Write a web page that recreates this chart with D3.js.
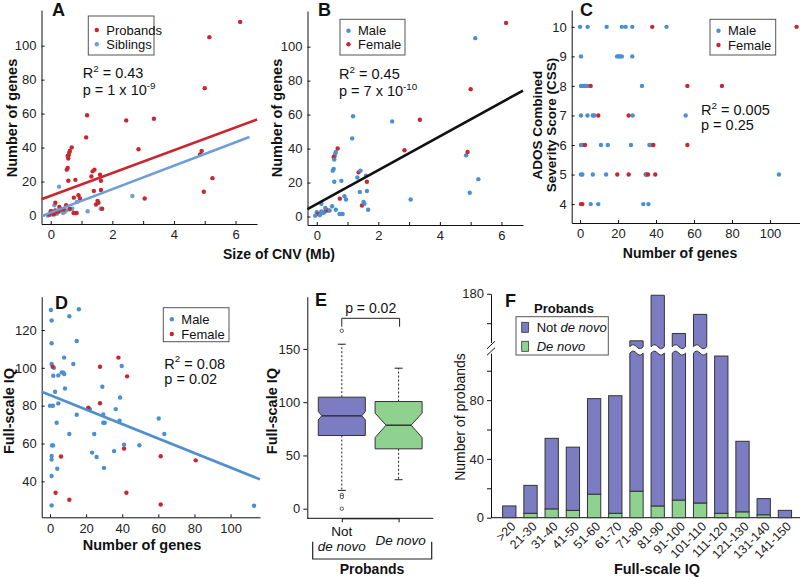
<!DOCTYPE html>
<html><head><meta charset="utf-8">
<script src="https://cdn.jsdelivr.net/npm/d3@7"></script>
<style>body{margin:0;background:#fff}svg{display:block}</style>
</head><body><svg id="c" width="800" height="577"></svg>
<script>
// ---------------- DATA ----------------
// Panels A/B: probands [size of CNV (Mb), number of genes, sex]
const probandCNV = [
 [6.15,114,"F"],[5.15,105,"M"],[5.0,75,"F"],[5.25,22,"M"],[4.97,14,"M"],[4.85,36,"M"],[4.9,38,"F"],
 [3.35,57,"F"],[2.45,56,"M"],[2.85,39,"F"],[3.05,10,"M"],[1.18,59,"M"],[1.15,46,"M"],
 [0.68,40,"F"],[0.62,38,"M"],[0.6,37,"M"],[0.58,35.5,"M"],[0.55,35,"F"],[0.57,33.5,"M"],[0.55,28,"M"],
 [0.52,27,"M"],[0.57,20.5,"M"],[0.8,21,"M"],[1.36,26,"F"],[1.42,27,"M"],[1.32,23,"M"],[1.4,14.5,"M"],
 [1.47,6.5,"F"],[1.52,8.5,"M"],[1.55,7.5,"M"],[1.6,24,"M"],[1.63,20.5,"F"],[1.63,15,"M"],[1.67,4,"M"],
 [0.75,10.5,"F"],[0.9,12,"M"],[0.95,10,"M"],[0.74,1.5,"M"],[0.8,1.5,"M"],[0.84,1.5,"M"],
 [0.0,2.5,"M"],[0.05,1.5,"F"],[0.1,0.8,"M"],[0.15,3,"M"],[0.2,2,"M"],[0.25,2.5,"M"],[0.3,4,"F"],
 [0.36,3.5,"F"],[0.42,3.5,"M"],[0.5,6,"M"],[0.62,4,"M"],[0.15,7.5,"M"],[0.28,5,"M"],[-0.05,0.5,"M"]
];
// Panel A: siblings [size (Mb), genes]
const siblingCNV = [
 [0.27,17],[0.12,6],[2.65,11.5],[1.2,2.5],[1.62,4],[0.85,8],[0.6,3.5],[-0.1,0],[0,0.5],[0.05,1],
 [0.1,0.5],[0.15,1.5],[0.2,1],[0.25,2],[0.3,2.5],[0.35,3],[0.4,1.5],[0.5,3],[0.7,4],[0.05,2.5],[0.45,2]
];
// regression lines [intercept, slope, xStart, xEnd]
const fitProbands = [11.6, 6.7, -0.3, 6.7];
const fitSiblings = [1.7, 6.9, -0.3, 6.45];
const fitAll = [7.4, 9.96, -0.3, 6.7];
// Panel C: [number of genes, ADOS CSS, sex]
const cssData = [
 [0,10,"M"],[4,10,"M"],[14,10,"M"],[22,10,"M"],[24,10,"M"],[27.5,10,"M"],[45.5,10,"M"],[38,10,"F"],[114,10,"F"],
 [0.5,9,"M"],[19.5,9,"M"],[20.5,9,"M"],[21,9,"M"],[22,9,"M"],[27.5,9,"M"],
 [0.5,8,"M"],[1.3,8,"M"],[2.2,8,"M"],[3,8,"M"],[3.9,8,"M"],[5.6,8,"F"],[32.6,8,"M"],[56.5,8,"F"],[74.7,8,"F"],
 [0.5,7,"M"],[3.9,7,"M"],[6.7,7,"M"],[7.5,7,"M"],[9.6,7,"F"],[25.6,7,"F"],[27.7,7,"M"],[55.6,7,"M"],
 [0.5,6,"M"],[1.2,6,"M"],[2.6,6,"F"],[11,6,"M"],[14.6,6,"M"],[26.8,6,"M"],[36.5,6,"M"],[37.4,6,"M"],[38.6,6,"F"],[56.5,6,"F"],
 [0.5,5,"M"],[1.2,5,"M"],[6.7,5,"M"],[13.7,5,"M"],[19.6,5,"F"],[25.6,5,"F"],[34.6,5,"F"],[35,5,"M"],[35.8,5,"F"],[39.6,5,"F"],[104.7,5,"M"],
 [0.5,4,"F"],[1.2,4,"F"],[5.6,4,"M"],[9.6,4,"M"],[33.3,4,"M"],[36,4,"M"]
];
// Panel D: [number of genes, full-scale IQ, sex]
const iqData = [
 [0.5,130.6,"M"],[0.9,125,"M"],[0.9,113,"M"],[0.9,102,"M"],[2.2,100,"M"],[1.8,95.8,"M"],[4.6,96,"M"],
 [6.5,97.6,"M"],[7.4,97.4,"M"],[7.9,96.7,"M"],[7.8,105.4,"M"],[10.7,127.3,"M"],[16,131,"M"],[14.8,114.2,"M"],
 [12.9,102,"M"],[8.3,89.1,"M"],[2.8,87.4,"M"],[0,80,"M"],[1.6,80,"M"],[4.6,81.2,"M"],[14.8,75.2,"M"],
 [10.7,65,"M"],[3.7,71,"M"],[1.1,59,"M"],[1.7,59,"M"],[0.9,53.4,"M"],[0.9,51.5,"M"],[0.9,42.8,"M"],
 [4,46.7,"M"],[0.9,27.3,"M"],[22.1,78.2,"M"],[23.3,55.2,"M"],[24.5,65,"M"],[25.8,52.9,"M"],[29,90,"M"],
 [29.5,75.3,"M"],[29.5,71,"M"],[30.3,71,"M"],[29.9,47.1,"M"],[35.5,56,"M"],[36.4,78.2,"M"],[38.8,84.3,"M"],
 [38.5,72,"M"],[39.7,101,"M"],[41,59.4,"M"],[49.5,59.1,"M"],[60.2,73.2,"M"],[63.3,65,"M"],[113,27.1,"M"],
 [1.5,100.6,"F"],[21.2,78.9,"F"],[27.7,81.3,"F"],[27.7,100.6,"F"],[37.9,105.4,"F"],[42.7,95.5,"F"],
 [41,57.3,"F"],[6.1,53.1,"F"],[3.1,34,"F"],[10.7,30.3,"F"],[42.3,34,"F"],[61.3,53.3,"F"],[61.3,27.8,"F"],[80.7,51.1,"F"]
];
const fitIQ = [85.6, -0.383, -4.6, 116.3];
// Panel E: box plot statistics
const boxCats = ["Not de novo","De novo"];
const boxLow = [17.2, 27.2];
const boxQ1 = [68.7, 56.2];
const boxMed = [87.2, 78.4];
const boxQ3 = [104.7, 100.6];
const boxHigh = [154.4, 131.9];
const boxNotchLo = [83.4, 66.8];
const boxNotchHi = [91.2, 89.7];
const boxOutliers = [[167, 13, 11, 0], []];
// Panel F: histogram of full-scale IQ
const iqBins = [">20","21-30","31-40","41-50","51-60","61-70","71-80","81-90","91-100","101-110","111-120","121-130","131-140","141-150"];
const deNovoCounts = [0,3,6,5,16,3,18,8,12,10,3,4,2,0];
const notDeNovoCounts = [8,19,48,43,65,80,130,171,141,156,107,48,11,5];

// ---------------- DRAWING ----------------
const FONT = '"Liberation Sans", Arial, Helvetica, sans-serif';
const RED = "#c7282f", BLUE = "#4a8fd2", SIB = "#6d9ed8";
const PURPLE = "#7c7cc3", GREEN = "#8fd18e";
const svg = d3.select("#c").attr("font-family", FONT);

function axisStyle(g, fs) {
  g.selectAll("text").attr("font-size", fs || 13).attr("fill", "#222").attr("font-family", FONT);
  g.selectAll("line,path").attr("stroke", "#111").attr("stroke-width", 1);
}
function label(x, y, str, o) {
  o = o || {};
  const t = svg.append("text").attr("x", x).attr("y", y).text(str)
    .attr("font-size", o.fs || 14).attr("font-weight", o.bold ? "bold" : "normal")
    .attr("text-anchor", o.anchor || "start").attr("fill", "#111");
  if (o.rot) t.attr("transform", `rotate(${o.rot},${x},${y})`);
  if (o.italic) t.attr("font-style", "italic");
  return t;
}
function stat(x, y, sup, rest, fs, pre) {
  const t = svg.append("text").attr("x", x).attr("y", y).attr("font-size", fs).attr("fill", "#111");
  t.append("tspan").text(pre);
  t.append("tspan").attr("font-size", fs * 0.68).attr("dy", -fs * 0.42).text(sup);
  if (rest) t.append("tspan").attr("dy", fs * 0.42).text(rest);
}
function legend(x0, y0, x1, y1, items) {
  svg.append("rect").attr("x", x0).attr("y", y0).attr("width", x1 - x0).attr("height", y1 - y0)
    .attr("fill", "#fff").attr("stroke", "#555").attr("stroke-width", 1);
  items.forEach(it => {
    svg.append("circle").attr("cx", x0 + 8.5).attr("cy", it[2]).attr("r", 2.2).attr("fill", it[1]);
    label(x0 + 18, it[2] + 4.5, it[0], {fs: 13});
  });
}
function dots(data, x, y, colorFn) {
  svg.append("g").selectAll("circle").data(data).join("circle")
    .attr("cx", d => x(d[0])).attr("cy", d => y(d[1])).attr("r", 2.2).attr("fill", colorFn);
}
function fitLine(f, x, y, color) {
  svg.append("line").attr("x1", x(f[2])).attr("y1", y(f[0] + f[1] * f[2]))
    .attr("x2", x(f[3])).attr("y2", y(f[0] + f[1] * f[3]))
    .attr("stroke", color).attr("stroke-width", 2.6);
}
const sexColor = d => d[2] === "F" ? RED : BLUE;

// ----- Panel A -----
const xA = d3.scaleLinear().domain([-0.3, 6.7]).range([41.5, 257.1]);
const yA = d3.scaleLinear().domain([-5, 121]).range([224, 10]);
svg.append("g").attr("transform", "translate(0,224)")
  .call(d3.axisBottom(xA).tickValues(d3.range(0, 7)).tickFormat(d => d % 2 ? "" : d).tickSizeInner(-3).tickSizeOuter(0).tickPadding(6)).call(axisStyle);
svg.append("g").attr("transform", "translate(41.5,0)")
  .call(d3.axisLeft(yA).tickValues(d3.range(0, 101, 20)).tickSizeInner(-3).tickSizeOuter(0).tickPadding(5)).call(axisStyle);
dots(siblingCNV, xA, yA, () => SIB);
dots(probandCNV, xA, yA, () => RED);
fitLine(fitProbands, xA, yA, RED);
fitLine(fitSiblings, xA, yA, SIB);
legend(88.3, 16, 154, 55, [["Probands", RED, 30], ["Siblings", SIB, 44.3]]);
stat(82.7, 78, "2", " = 0.43", 14.5, "R");
stat(82.7, 95, "-9", "", 14.5, "p = 1 x 10");
label(52, 16, "A", {fs: 18, bold: true});
label(17, 118, "Number of genes", {fs: 14.5, bold: true, anchor: "middle", rot: -90});

// ----- Panel B -----
const xB = d3.scaleLinear().domain([-0.3, 6.7]).range([307.5, 523]);
const yB = d3.scaleLinear().domain([-5, 121]).range([225, 11]);
svg.append("g").attr("transform", "translate(0,225)")
  .call(d3.axisBottom(xB).tickValues(d3.range(0, 7)).tickFormat(d => d % 2 ? "" : d).tickSizeInner(-3).tickSizeOuter(0).tickPadding(6)).call(axisStyle);
svg.append("g").attr("transform", "translate(307.5,0)")
  .call(d3.axisLeft(yB).tickValues(d3.range(0, 101, 20)).tickSizeInner(-3).tickSizeOuter(0).tickPadding(5)).call(axisStyle);
dots(probandCNV, xB, yB, sexColor);
fitLine(fitAll, xB, yB, "#111");
legend(340, 19.3, 405, 55, [["Male", BLUE, 30.7], ["Female", RED, 44.3]]);
stat(339, 79, "2", " = 0.45", 14.5, "R");
stat(339, 96, "-10", "", 14.5, "p = 7 x 10");
label(318, 16, "B", {fs: 18, bold: true});
label(282, 118, "Number of genes", {fs: 14.5, bold: true, anchor: "middle", rot: -90});
label(279, 259, "Size of CNV (Mb)", {fs: 14, bold: true, anchor: "middle"});

// ----- Panel C -----
const xC = d3.scaleLinear().domain([-4.4, 115.8]).range([571.7, 800]);
const yC = d3.scaleLinear().domain([3.36, 10.57]).range([223, 10]);
svg.append("g").attr("transform", "translate(0,223)")
  .call(d3.axisBottom(xC).tickValues(d3.range(0, 101, 20)).tickSizeInner(-3).tickSizeOuter(0).tickPadding(6)).call(axisStyle);
svg.append("g").attr("transform", "translate(571.7,0)")
  .call(d3.axisLeft(yC).tickValues(d3.range(4, 11)).tickSizeInner(-3).tickSizeOuter(0).tickPadding(5)).call(axisStyle);
dots(cssData, xC, yC, sexColor);
legend(710, 19.3, 775.7, 55, [["Male", BLUE, 30.7], ["Female", RED, 45]]);
stat(701, 115, "2", " = 0.005", 14.5, "R");
stat(701, 130, "", "", 14.5, "p = 0.25");
label(580, 16, "C", {fs: 18, bold: true});
label(542, 125, "ADOS Combined", {fs: 13.5, bold: true, anchor: "middle", rot: -90});
label(556, 125, "Severity Score (CSS)", {fs: 13.5, bold: true, anchor: "middle", rot: -90});
label(680, 258, "Number of genes", {fs: 14, bold: true, anchor: "middle"});

// ----- Panel D -----
const xD = d3.scaleLinear().domain([-4.6, 116.3]).range([41.7, 260]);
const yD = d3.scaleLinear().domain([21, 137.6]).range([517.3, 296.7]);
svg.append("g").attr("transform", "translate(0,517.3)")
  .call(d3.axisBottom(xD).tickValues(d3.range(0, 101, 20)).tickSizeInner(-3).tickSizeOuter(0).tickPadding(6)).call(axisStyle);
svg.append("g").attr("transform", "translate(41.7,0)")
  .call(d3.axisLeft(yD).tickValues(d3.range(40, 121, 20)).tickSizeInner(-3).tickSizeOuter(0).tickPadding(5)).call(axisStyle);
dots(iqData, xD, yD, sexColor);
fitLine(fitIQ, xD, yD, "#4f8fcf");
legend(163.3, 307.7, 229, 341.7, [["Male", BLUE, 319.3], ["Female", RED, 334]]);
stat(164.3, 368.5, "2", " = 0.08", 14.5, "R");
stat(164.3, 384, "", "", 14.5, "p = 0.02");
label(55, 309, "D", {fs: 18, bold: true});
label(14, 411, "Full-scale IQ", {fs: 14.5, bold: true, anchor: "middle", rot: -90});
label(142, 550, "Number of genes", {fs: 14.5, bold: true, anchor: "middle"});

// ----- Panel E -----
const yE = d3.scaleLinear().domain([-9, 199]).range([518.3, 296.7]);
const xE = d3.scalePoint().domain(boxCats).range([341.8, 398.6]);
svg.append("g").attr("transform", "translate(307.3,0)")
  .call(d3.axisLeft(yE).tickValues([0, 50, 100, 150]).tickSizeInner(4).tickSizeOuter(0).tickPadding(3)).call(axisStyle);
svg.append("g").attr("transform", "translate(0,518.3)")
  .call(d3.axisBottom(xE).tickSizeInner(4).tickSizeOuter(0).tickFormat(() => "")).call(axisStyle);
svg.append("line").attr("x1", 307.3).attr("x2", 433.3).attr("y1", 518.3).attr("y2", 518.3).attr("stroke", "#111");
const bw = 23.5, insets = [3.5, 11];
boxCats.forEach((c, i) => {
  const cx = xE(c), x0 = cx - bw, x1 = cx + bw, ins = insets[i];
  svg.append("line").attr("x1", cx).attr("x2", cx).attr("y1", yE(boxQ3[i])).attr("y2", yE(boxHigh[i]))
    .attr("stroke", "#222").attr("stroke-dasharray", "2,2");
  svg.append("line").attr("x1", cx).attr("x2", cx).attr("y1", yE(boxQ1[i])).attr("y2", yE(boxLow[i]))
    .attr("stroke", "#222").attr("stroke-dasharray", "2,2");
  [boxHigh[i], boxLow[i]].forEach(v => svg.append("line").attr("x1", cx - 4).attr("x2", cx + 4)
    .attr("y1", yE(v)).attr("y2", yE(v)).attr("stroke", "#222"));
  const p = d3.path();
  p.moveTo(x0, yE(boxQ3[i])); p.lineTo(x1, yE(boxQ3[i])); p.lineTo(x1, yE(boxNotchHi[i]));
  p.lineTo(x1 - ins, yE(boxMed[i])); p.lineTo(x1, yE(boxNotchLo[i])); p.lineTo(x1, yE(boxQ1[i]));
  p.lineTo(x0, yE(boxQ1[i])); p.lineTo(x0, yE(boxNotchLo[i])); p.lineTo(x0 + ins, yE(boxMed[i]));
  p.lineTo(x0, yE(boxNotchHi[i])); p.closePath();
  svg.append("path").attr("d", p.toString()).attr("fill", i === 0 ? PURPLE : GREEN).attr("stroke", "#333").attr("stroke-width", 1);
  svg.append("line").attr("x1", x0 + ins).attr("x2", x1 - ins).attr("y1", yE(boxMed[i])).attr("y2", yE(boxMed[i]))
    .attr("stroke", "#222").attr("stroke-width", 1.3);
  boxOutliers[i].forEach(v => svg.append("circle").attr("cx", cx).attr("cy", yE(v)).attr("r", 1.7)
    .attr("fill", "#fff").attr("stroke", "#333").attr("stroke-width", 0.8));
});
const bx0 = xE(boxCats[0]), bx1 = xE(boxCats[1]) + 1;
svg.append("path").attr("d", `M${bx0},326.7V318.3H${bx1}V326.7`).attr("fill", "none").attr("stroke", "#222");
label((bx0 + bx1) / 2, 313, "p = 0.02", {fs: 14, anchor: "middle"});
label(xE(boxCats[0]), 536, "Not", {fs: 13.5, anchor: "middle"});
label(xE(boxCats[0]), 551, "de novo", {fs: 13.5, anchor: "middle", italic: true});
label(xE(boxCats[1]) + 2, 545, "De novo", {fs: 13.5, anchor: "middle", italic: true});
svg.append("path").attr("d", "M312.7,541.7V559H431.7V541.7").attr("fill", "none").attr("stroke", "#222").attr("stroke-width", 1.2);
label(372, 573.5, "Probands", {fs: 14, bold: true, anchor: "middle"});
label(315, 306, "E", {fs: 18, bold: true});
label(277, 411, "Full-scale IQ", {fs: 14.5, bold: true, anchor: "middle", rot: -90});

// ----- Panel F -----
const xF = d3.scaleBand().domain(iqBins).range([498.7, 795.5]).paddingInner(0.373).paddingOuter(0.1865);
const yLow = d3.scaleLinear().domain([0, 112]).range([517.7, 353.1]);
const yUp = d3.scaleLinear().domain([144, 180]).range([346.7, 293.8]);
svg.append("g").attr("transform", "translate(491,0)")
  .call(d3.axisLeft(yLow).tickValues(d3.range(0, 101, 20)).tickFormat(d => d % 40 ? "" : d).tickSizeInner(4).tickSizeOuter(0).tickPadding(3)).call(axisStyle);
svg.append("g").attr("transform", "translate(491,0)")
  .call(d3.axisLeft(yUp).tickValues([160, 180]).tickFormat(d => d === 180 ? d : "").tickSizeInner(4).tickSizeOuter(0).tickPadding(3)).call(axisStyle);
svg.append("rect").attr("x", 488).attr("y", 343).attr("width", 6).attr("height", 9).attr("fill", "#fff");
svg.append("path").attr("d", "M487,348.8L495,341.2M487,355.3L495,347.7").attr("stroke", "#111").attr("stroke-width", 1);
svg.append("line").attr("x1", 491).attr("x2", 800).attr("y1", 517.7).attr("y2", 517.7).attr("stroke", "#111");

function wave(xl, xr, y0, reverse) {
  const pts = d3.range(0, 1.0001, 0.1).map(t => [xl + t * (xr - xl), y0 - 2 * Math.sin(2 * Math.PI * t)]);
  return reverse ? pts.reverse() : pts;
}
const stackData = iqBins.map((b, i) => ({bin: b, deNovo: deNovoCounts[i], notDeNovo: notDeNovoCounts[i]}));
const series = d3.stack().keys(["deNovo", "notDeNovo"])(stackData);
series.forEach(s => {
  const fill = s.key === "deNovo" ? GREEN : PURPLE;
  s.forEach(seg => {
    const [v0, v1] = seg; if (v1 - v0 <= 0) return;
    const xl = xF(seg.data.bin), xr = xl + xF.bandwidth();
    if (v1 <= 112) {
      svg.append("rect").attr("x", xl).attr("y", yLow(v1)).attr("width", xr - xl).attr("height", yLow(v0) - yLow(v1))
        .attr("fill", fill).attr("stroke", "#333").attr("stroke-width", 1);
    } else {
      const low = [[xl, yLow(v0)], ...wave(xl, xr, yLow(112), false), [xr, yLow(v0)]];
      svg.append("path").attr("d", "M" + low.map(p => p.join(",")).join("L") + "Z")
        .attr("fill", fill).attr("stroke", "#333").attr("stroke-width", 1);
      const up = [[xl, yUp(v1)], [xr, yUp(v1)], ...wave(xl, xr, yUp(144), true)];
      svg.append("path").attr("d", "M" + up.map(p => p.join(",")).join("L") + "Z")
        .attr("fill", fill).attr("stroke", "#333").attr("stroke-width", 1);
    }
  });
});
iqBins.forEach(b => {
  const cx = xF(b) + xF.bandwidth() / 2 + 4, cy = 524;
  svg.append("text").attr("x", cx).attr("y", cy).attr("dy", "0.35em").attr("text-anchor", "end")
    .attr("font-size", 12.5).attr("fill", "#222").attr("transform", `rotate(-45,${cx},${cy})`).text(b);
});
svg.append("rect").attr("x", 516).attr("y", 316.7).attr("width", 92.3).attr("height", 38.3)
  .attr("fill", "#fff").attr("stroke", "#555");
label(534, 313, "Probands", {fs: 13, bold: true});
svg.append("rect").attr("x", 521.7).attr("y", 322.3).attr("width", 6.7).attr("height", 10).attr("fill", PURPLE).attr("stroke", "#333").attr("stroke-width", 0.8);
svg.append("rect").attr("x", 521.7).attr("y", 341.3).attr("width", 6.7).attr("height", 10).attr("fill", GREEN).attr("stroke", "#333").attr("stroke-width", 0.8);
const l1 = svg.append("text").attr("x", 536.7).attr("y", 332).attr("font-size", 13).attr("fill", "#111");
l1.append("tspan").text("Not ");
l1.append("tspan").attr("font-style", "italic").text("de novo");
label(536.7, 351, "De novo", {fs: 13, italic: true});
label(505, 307, "F", {fs: 18, bold: true});
label(465, 417, "Number of probands", {fs: 14, anchor: "middle", rot: -90});
label(657, 574, "Full-scale IQ", {fs: 14.5, bold: true, anchor: "middle"});
</script></body></html>
